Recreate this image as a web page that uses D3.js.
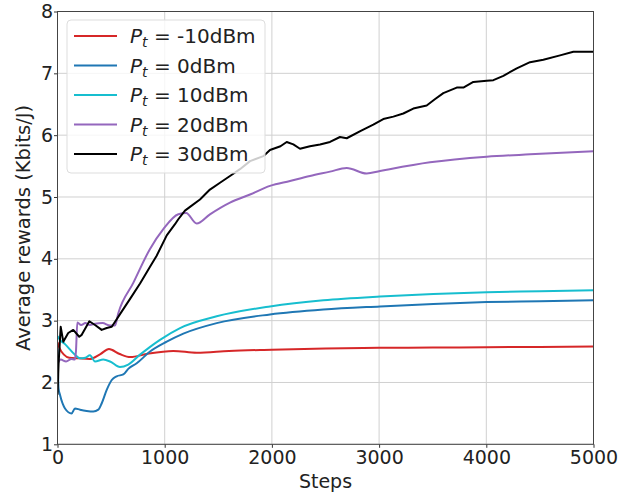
<!DOCTYPE html>
<html>
<head>
<meta charset="utf-8">
<script src="https://cdn.jsdelivr.net/npm/d3@7"></script>
<style>
  body { margin: 0; background: #fff; }
  svg { display: block; font-family: "DejaVu Sans", sans-serif; }
</style>
</head>
<body>
<svg id="chart" width="643" height="496"></svg>
<script>
// series data (steps, average reward in Kbits/J)
var stepsRed = [0, 20, 60, 110, 195, 300, 400, 480, 580, 680, 830, 1080, 1300, 1600, 2000, 2500, 3000, 3500, 4000, 4500, 5000];
var valsRed  = [2.65, 2.55, 2.45, 2.40, 2.39, 2.38, 2.46, 2.54, 2.46, 2.41, 2.46, 2.51, 2.48, 2.51, 2.53, 2.55, 2.56, 2.565, 2.57, 2.575, 2.58];

var stepsBlue = [0, 10, 23, 70, 132, 163, 210, 272, 334, 381, 412, 459, 506, 552, 614, 660, 739, 863, 1019, 1174, 1485, 1982, 2480, 3008, 3506, 4004, 4500, 5000];
var valsBlue  = [2.55, 1.9, 1.80, 1.58, 1.50, 1.58, 1.56, 1.54, 1.53, 1.56, 1.66, 1.88, 2.04, 2.10, 2.13, 2.22, 2.31, 2.50, 2.66, 2.79, 2.96, 3.10, 3.18, 3.23, 3.27, 3.30, 3.315, 3.33];

var stepsCyan = [0, 23, 70, 163, 210, 260, 303, 350, 427, 490, 583, 660, 770, 956, 1143, 1485, 1982, 2480, 3008, 3506, 4004, 4500, 5000];
var valsCyan  = [2.75, 2.69, 2.62, 2.45, 2.39, 2.40, 2.44, 2.34, 2.37, 2.34, 2.25, 2.29, 2.45, 2.69, 2.88, 3.07, 3.23, 3.33, 3.39, 3.43, 3.46, 3.475, 3.49];

var stepsPurple = [0, 30, 80, 130, 160, 172, 185, 220, 260, 300, 350, 420, 490, 536, 567, 707, 863, 987, 1127, 1200, 1298, 1422, 1609, 1796, 1982, 2169, 2355, 2542, 2698, 2884, 3008, 3475, 4004, 4408, 5000];
var valsPurple  = [2.3, 2.37, 2.34, 2.38, 2.37, 2.5, 2.97, 2.93, 2.96, 2.93, 2.95, 2.96, 2.92, 2.92, 3.12, 3.61, 4.16, 4.48, 4.72, 4.74, 4.57, 4.72, 4.91, 5.04, 5.18, 5.26, 5.34, 5.41, 5.47, 5.38, 5.42, 5.56, 5.65, 5.69, 5.74];

var stepsBlack = [0, 10, 30, 54, 100, 147, 203, 226, 297, 350, 412, 459, 506, 540, 600, 680, 770, 863, 925, 1019, 1096, 1127, 1189, 1236, 1329, 1422, 1516, 1609, 1702, 1796, 1920, 1982, 2080, 2138, 2200, 2262, 2355, 2449, 2542, 2635, 2698, 2829, 2946, 3039, 3133, 3226, 3319, 3444, 3520, 3599, 3724, 3786, 3879, 4004, 4066, 4159, 4284, 4408, 4532, 4688, 4812, 5000];
var valsBlack  = [1.8, 2.3, 2.9, 2.66, 2.8, 2.85, 2.74, 2.77, 2.99, 2.93, 2.85, 2.88, 2.9, 2.99, 3.15, 3.36, 3.6, 3.87, 4.05, 4.38, 4.56, 4.64, 4.78, 4.84, 4.96, 5.12, 5.23, 5.34, 5.45, 5.58, 5.66, 5.76, 5.82, 5.89, 5.85, 5.78, 5.82, 5.85, 5.89, 5.97, 5.95, 6.07, 6.17, 6.26, 6.30, 6.35, 6.43, 6.48, 6.58, 6.68, 6.77, 6.77, 6.86, 6.88, 6.89, 6.96, 7.08, 7.18, 7.22, 7.29, 7.35, 7.35];

var legendPower = ["-10dBm", "0dBm", "10dBm", "20dBm", "30dBm"];
var xTicks = [0, 1000, 2000, 3000, 4000, 5000];
var yTicks = [1, 2, 3, 4, 5, 6, 7, 8];

var series = [
    { steps: stepsRed,    vals: valsRed,    color: "#d62728", name: legendPower[0] },
    { steps: stepsBlue,   vals: valsBlue,   color: "#1f77b4", name: legendPower[1] },
    { steps: stepsCyan,   vals: valsCyan,   color: "#17becf", name: legendPower[2] },
    { steps: stepsPurple, vals: valsPurple, color: "#9467bd", name: legendPower[3] },
    { steps: stepsBlack,  vals: valsBlack,  color: "#000000", name: legendPower[4] }
];

var svg = d3.select("#chart");
var pLeft = 57.5, pRight = 593.5, pTop = 11.5, pBottom = 444.3;

var x = d3.scaleLinear().domain([0, 5000]).range([pLeft, pRight]);
var y = d3.scaleLinear().domain([1, 8]).range([pBottom, pTop]);

// grid
var grid = svg.append("g");
grid.selectAll(".gx").data(xTicks).enter().append("line")
    .attr("x1", function(d){ return x(d); }).attr("x2", function(d){ return x(d); })
    .attr("y1", pTop).attr("y2", pBottom)
    .attr("stroke", "#d0d0d0").attr("stroke-width", 1);
grid.selectAll(".gy").data(yTicks).enter().append("line")
    .attr("x1", pLeft).attr("x2", pRight)
    .attr("y1", function(d){ return y(d); }).attr("y2", function(d){ return y(d); })
    .attr("stroke", "#d0d0d0").attr("stroke-width", 1);

// lines
svg.append("clipPath").attr("id", "clip").append("rect")
    .attr("x", pLeft).attr("y", pTop).attr("width", pRight - pLeft).attr("height", pBottom - pTop);

var lines = svg.append("g").attr("clip-path", "url(#clip)");
series.forEach(function(s, i){
    var pts = s.steps.map(function(st, j){ return [st, s.vals[j]]; });
    var line = d3.line()
        .x(function(d){ return x(d[0]); })
        .y(function(d){ return y(d[1]); })
        .curve(i == 4 ? d3.curveLinear : d3.curveMonotoneX);
    lines.append("path")
        .attr("d", line(pts))
        .attr("fill", "none")
        .attr("stroke", s.color)
        .attr("stroke-width", 2)
        .attr("stroke-linejoin", "round");
});

// axes
var xAxis = svg.append("g")
    .attr("transform", "translate(0," + pBottom + ")")
    .call(d3.axisBottom(x).tickValues(xTicks).tickSize(3.5).tickPadding(3).tickFormat(d3.format("d")));
var yAxis = svg.append("g")
    .attr("transform", "translate(" + pLeft + ",0)")
    .call(d3.axisLeft(y).tickValues(yTicks).tickSize(3.5).tickPadding(1).tickFormat(d3.format("d")));

[xAxis, yAxis].forEach(function(a){
    a.select(".domain").remove();
    a.selectAll(".tick line").attr("stroke", "#333");
    a.selectAll(".tick text").attr("font-size", "19px").attr("fill", "#222")
        .attr("font-family", "DejaVu Sans, sans-serif");
});

// frame
svg.append("rect")
    .attr("x", pLeft).attr("y", pTop)
    .attr("width", pRight - pLeft).attr("height", pBottom - pTop)
    .attr("fill", "none").attr("stroke", "#444").attr("stroke-width", 1);

// axis labels
svg.append("text")
    .attr("x", (pLeft + pRight) / 2).attr("y", 488)
    .attr("text-anchor", "middle").attr("font-size", "19px").attr("fill", "#222")
    .text("Steps");
svg.append("text")
    .attr("transform", "translate(30," + ((pTop + pBottom) / 2) + ") rotate(-90)")
    .attr("text-anchor", "middle").attr("font-size", "19.5px").attr("fill", "#222")
    .text("Average rewards (Kbits/J)");

// legend
var lg = svg.append("g");
lg.append("rect")
    .attr("x", 67).attr("y", 20).attr("width", 198).attr("height", 153)
    .attr("rx", 4).attr("fill", "#fff").attr("fill-opacity", 0.8)
    .attr("stroke", "#ddd").attr("stroke-width", 1);
series.forEach(function(s, i){
    var ly = 36 + i * 29.5;
    lg.append("line")
        .attr("x1", 74).attr("x2", 117).attr("y1", ly).attr("y2", ly)
        .attr("stroke", s.color).attr("stroke-width", 2);
    var t = lg.append("text")
        .attr("x", 130).attr("y", ly + 7)
        .attr("font-size", "20px").attr("fill", "#222");
    t.append("tspan").attr("font-style", "italic").text("P");
    t.append("tspan").attr("font-style", "italic").attr("font-size", "14px").attr("dy", 4).text("t");
    t.append("tspan").attr("dy", -4).text(" = " + s.name);
});
</script>
</body>
</html>
